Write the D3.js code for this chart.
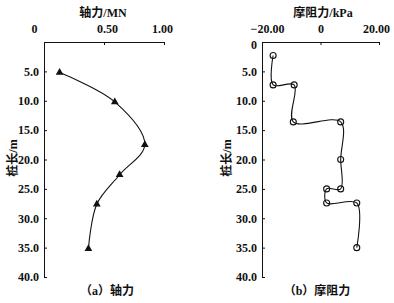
<!DOCTYPE html>
<html><head><meta charset="utf-8">
<script src="https://cdn.jsdelivr.net/npm/d3@7"></script>
<style>
body{margin:0;background:#fff;}
text{font-family:"Liberation Serif","Noto Sans CJK SC",serif;font-weight:bold;fill:#111;}
</style></head>
<body><svg id="c" width="394" height="303"></svg>
<script>
// Data
const axialDepth = [5.2, 10.2, 17.5, 22.6, 27.6, 35.2];
const axialForce = [0.13, 0.59, 0.84, 0.63, 0.44, 0.37];
const fricDepth = [2.3, 7.3, 7.3, 13.6, 13.6, 20.0, 25.0, 25.0, 27.4, 27.4, 35.0];
const fricValue = [-16.2, -16.2, -9.0, -9.3, 6.9, 6.9, 6.9, 2.1, 2.1, 12.4, 12.4];
const depthTicks = [5, 10, 15, 20, 25, 30, 35, 40];
const axialTicks = [0, 0.5, 1.0];
const fricTicks = [-20, 0, 20];

const svg = d3.select("#c");
const ink = "#111";
const tickFont = "'Liberation Serif','Times New Roman',serif";

function panel(opt){
  const x = d3.scaleLinear().domain(opt.xd).range(opt.xr);
  const y = d3.scaleLinear().domain([0,40]).range([42,277]);
  const g = svg.append("g");
  // top axis
  const ax = g.append("g").attr("transform",`translate(0,${y(0)})`)
    .call(d3.axisTop(x).tickValues(opt.xt).tickSizeOuter(0).tickSizeInner(-3).tickFormat(opt.xf).tickPadding(9));
  ax.attr("font-family",tickFont).attr("font-size",12);
  ax.select(".domain").attr("stroke",ink);
  ax.selectAll(".tick line").attr("stroke",ink);
  ax.selectAll("text").style("font-family",tickFont).attr("font-size",12).attr("font-weight","bold");
  if(opt.shiftX) ax.selectAll(".tick text").attr("dx",(d,i)=>opt.shiftX[i]);
  // left axis
  const ay = g.append("g").attr("transform",`translate(${opt.xr[0]},0)`)
    .call(d3.axisLeft(y).tickValues(opt.yt).tickSizeOuter(0).tickSizeInner(-3).tickFormat(d=>d===0?"0":d3.format(".1f")(d)).tickPadding(5));
  ay.attr("font-family",tickFont).attr("font-size",12);
  ay.select(".domain").attr("stroke",ink);
  ay.selectAll(".tick line").attr("stroke",ink);
  ay.selectAll("text").style("font-family",tickFont).attr("font-size",12).attr("font-weight","bold")
    .attr("dy",d=>d===0?"0.5em":"0.32em");
  // titles
  g.append("text").attr("x",opt.tx).attr("y",17).attr("text-anchor","middle").attr("font-size",12).text(opt.title);
  g.append("text").attr("transform",`translate(${opt.yl},158) rotate(-90)`).attr("text-anchor","middle").attr("font-size",12).text("桩长/m");
  g.append("text").attr("x",opt.cx).attr("y",295).attr("text-anchor","middle").attr("font-size",12).text(opt.caption);
  // curve
  const pts = opt.vals.map((v,i)=>[x(v), y(opt.depths[i])]);
  g.append("path").attr("d", d3.line().curve(d3.curveCatmullRom.alpha(0.5))(pts))
    .attr("fill","none").attr("stroke",ink).attr("stroke-width",1.1);
  if(opt.marker==="tri"){
    g.selectAll(".m").data(pts).join("path").attr("transform",d=>`translate(${d[0]},${d[1]})`)
      .attr("d", d3.symbol(d3.symbolTriangle, 26)).attr("fill",ink);
  } else {
    g.selectAll(".m").data(pts).join("circle").attr("cx",d=>d[0]).attr("cy",d=>d[1]).attr("r",3)
      .attr("fill","none").attr("stroke",ink).attr("stroke-width",1.1);
  }
}

panel({xd:[0,1], xr:[44,164], xt:axialTicks, xf:d=>d===0?"0":d3.format(".2f")(d), shiftX:[-10,3,-2],
  yt:depthTicks, title:"轴力/MN", tx:103, yl:17, cx:107, caption:"（a）轴力",
  depths:axialDepth, vals:axialForce, marker:"tri"});
panel({xd:[-20,20], xr:[262,379], xt:fricTicks, xf:d=>d===0?"0":d3.format(".2f")(d), shiftX:[5,0,-3],
  yt:[0].concat(depthTicks), title:"摩阻力/kPa", tx:323, yl:231, cx:317, caption:"（b）摩阻力",
  depths:fricDepth, vals:fricValue, marker:"circ"});
</script></body></html>
